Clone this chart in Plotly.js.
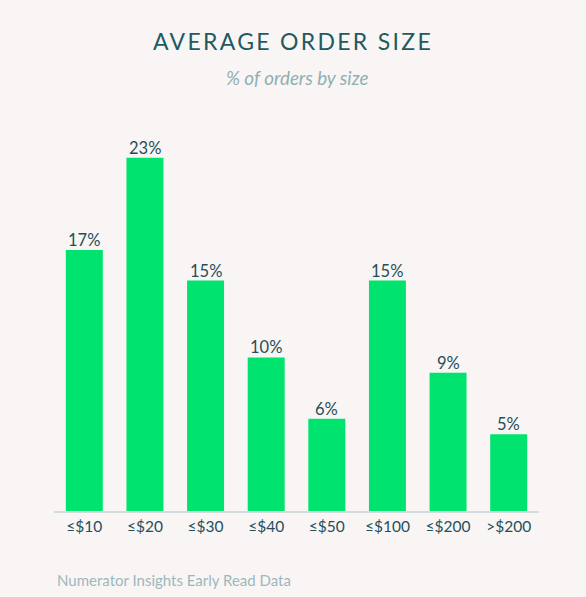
<!DOCTYPE html>
<html>
<head>
<meta charset="utf-8">
<script src="https://cdn.plot.ly/plotly-3.0.1.min.js"></script>
<style>
html,body{margin:0;padding:0;background:#f9f5f4;}
#chart{width:586px;height:597px;}
.gtitle{letter-spacing:2.3px;}
</style>
</head>
<body>
<div id="chart"></div>
<script>
const categories = ["≤$10","≤$20","≤$30","≤$40","≤$50","≤$100","≤$200",">$200"];
const shares = [17,23,15,10,6,15,9,5];
const valueLabels = shares.map(v => v + "%");

const trace = {
  type: "bar",
  x: categories,
  y: shares,
  marker: {color: "#00e36f", line: {width: 0}},
  hoverinfo: "none"
};

const valueAnnotations = categories.map((c, i) => ({
  text: valueLabels[i],
  x: c, y: shares[i],
  xref: "x", yref: "y",
  xanchor: "center", yanchor: "bottom",
  yshift: -2,
  showarrow: false,
  font: {family: "Lato, sans-serif", size: 16.5, color: "#1f4f5a"}
}));

const layout = {
  width: 586, height: 597,
  paper_bgcolor: "#f9f5f4",
  plot_bgcolor: "#f9f5f4",
  margin: {l: 54, r: 47, t: 127, b: 86},
  bargap: 0.39,
  showlegend: false,
  title: {
    text: "AVERAGE ORDER SIZE",
    font: {family: "Lato, sans-serif", size: 23, color: "#1f5a63"},
    x: 0.5, xanchor: "center", xref: "container",
    y: 1 - 42 / 597, yanchor: "middle", yref: "container"
  },
  xaxis: {
    type: "category",
    showline: true, linecolor: "#d3dbdd", linewidth: 2,
    showgrid: false, zeroline: false, ticks: "",
    tickfont: {family: "Lato, sans-serif", size: 15.5, color: "#1f4f5a"},
    fixedrange: true
  },
  yaxis: {
    range: [0, 25],
    visible: false,
    showgrid: false, zeroline: false,
    fixedrange: true
  },
  annotations: valueAnnotations.concat([
    {
      text: "<i>% of orders by size</i>",
      xref: "paper", yref: "paper",
      x: 0.5, xanchor: "center",
      y: 1 + (127 - 78) / 384, yanchor: "middle",
      showarrow: false,
      font: {family: "Lato, sans-serif", size: 18.8, color: "#8fb0b3"}
    },
    {
      text: "Numerator Insights Early Read Data",
      xref: "paper", yref: "paper",
      x: 0, xshift: 1, xanchor: "left",
      y: -(580 - 511) / 384, yanchor: "middle",
      showarrow: false,
      font: {family: "Lato, sans-serif", size: 15, color: "#9db8bb"}
    }
  ])
};

Plotly.newPlot("chart", [trace], layout, {displayModeBar: false, staticPlot: true});
</script>
</body>
</html>
